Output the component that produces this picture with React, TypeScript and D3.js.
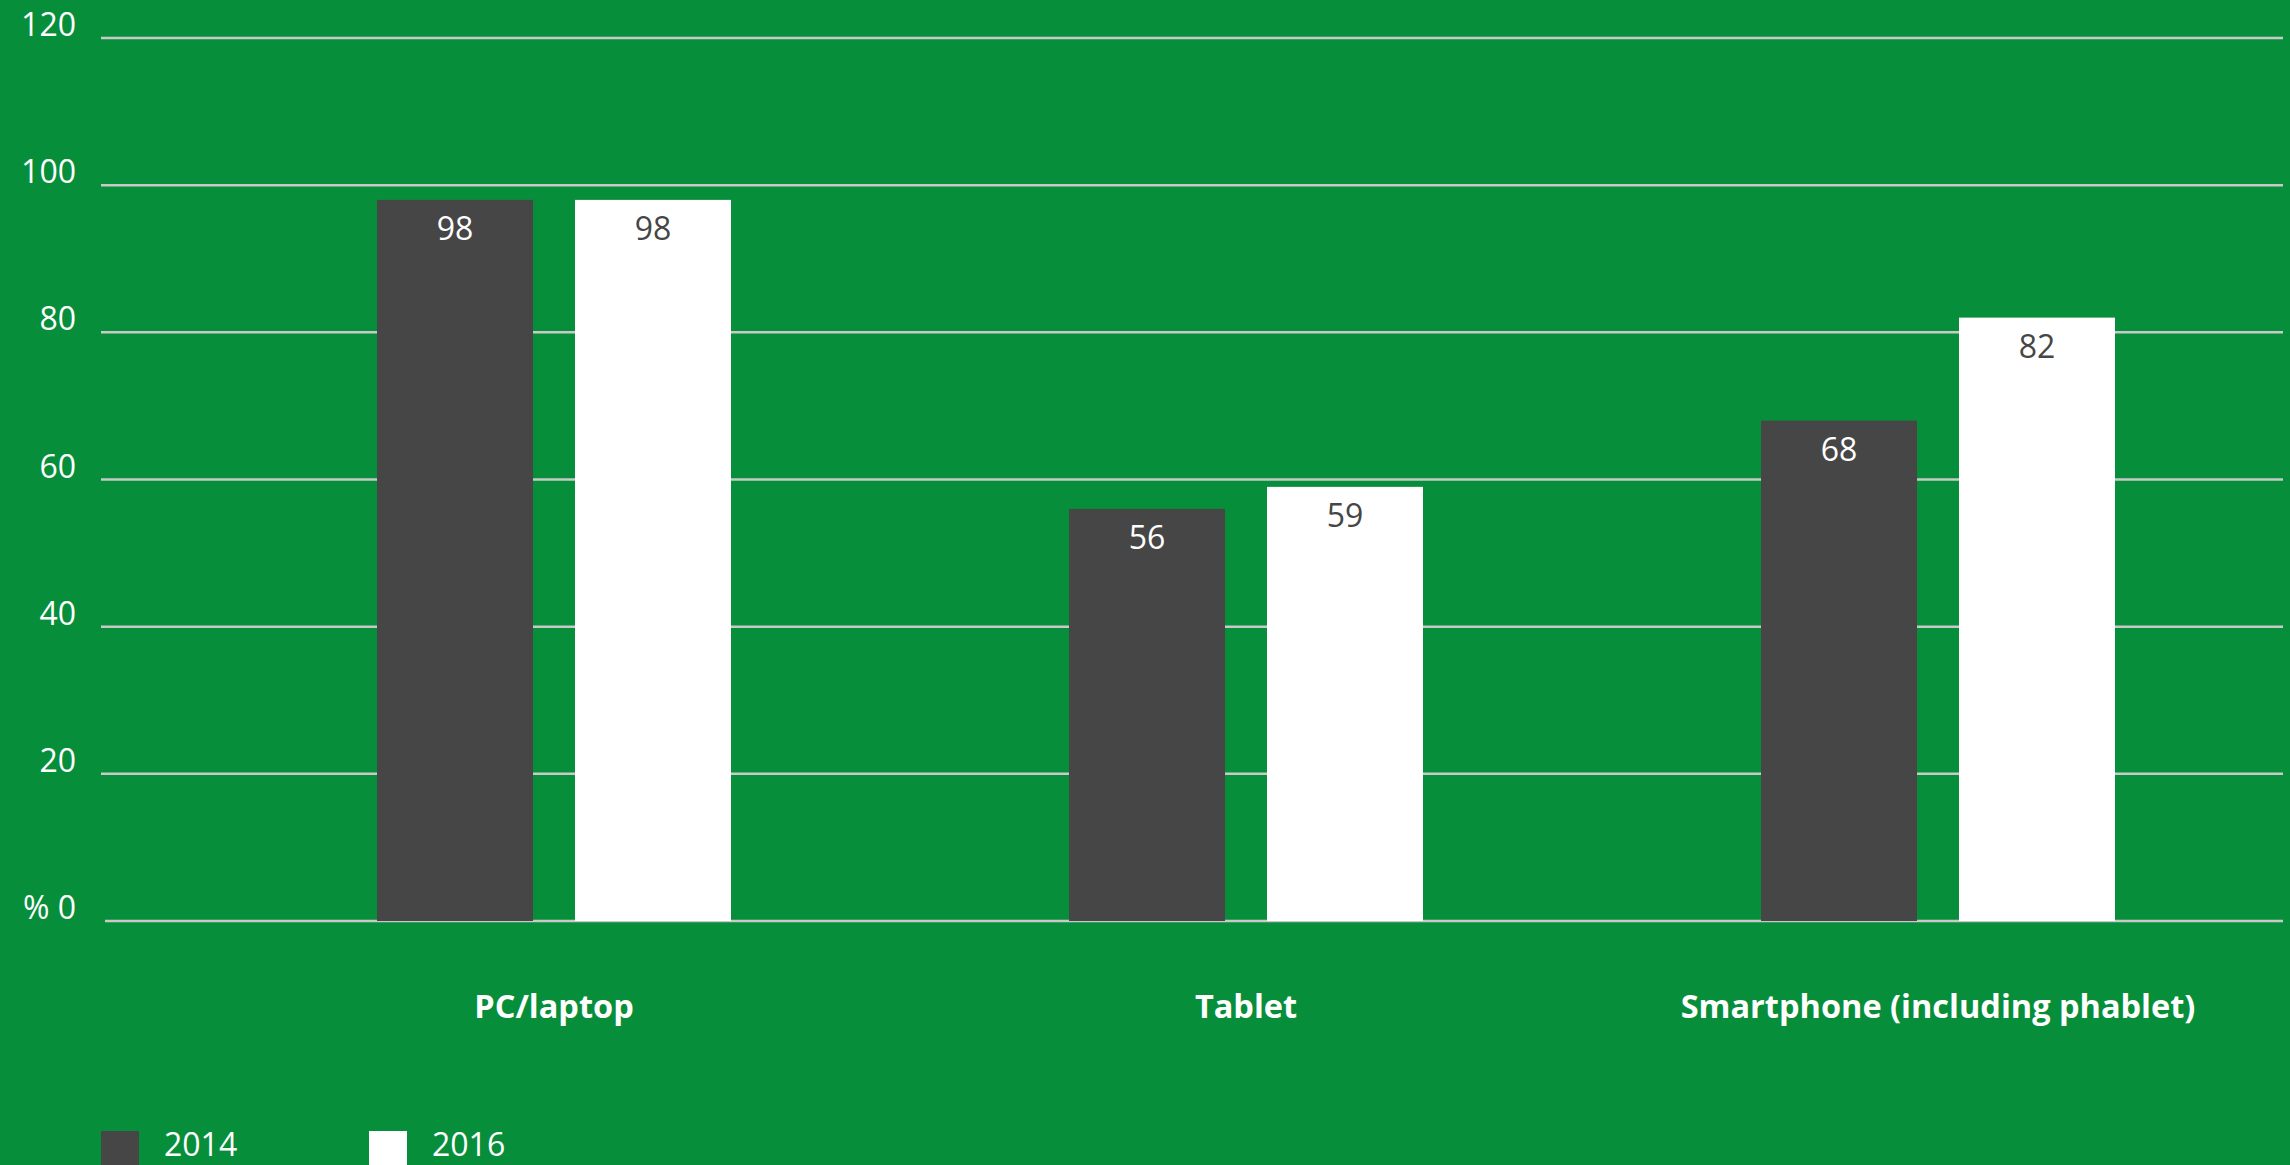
import React from "react";
import * as d3 from "d3";

const categories = ["PC/laptop", "Tablet", "Smartphone (including phablet)"];
const seriesNames = ["2014", "2016"];
const values2014 = [98, 56, 68];
const values2016 = [98, 59, 82];
const yTicks = [0, 20, 40, 60, 80, 100, 120];

const W = 2290;
const H = 1165;
const BG = "#078e3a";
const DARK = "#464646";
const WHITE = "#ffffff";
const GRID = "#c9c9c9";
const FONT = "'Open Sans', 'DejaVu Sans', sans-serif";

export default function App() {
  const y = d3.scaleLinear().domain([0, 120]).range([921, 38]);
  const x0 = d3.scaleBand<string>().domain(categories).range([208, 2284]).padding(0);
  const x1 = d3
    .scaleBand<string>()
    .domain(seriesNames)
    .range([169, 523])
    .paddingInner(0.212)
    .paddingOuter(0);
  const colors = [DARK, WHITE];
  const labelColors = [WHITE, DARK];
  const series = [values2014, values2016];

  return (
    <div style={{ position: "fixed", left: 0, top: 0, width: W, height: H, background: BG }}>
      <svg width={W} height={H} style={{ display: "block" }}>
        <rect x={0} y={0} width={W} height={H} fill={BG} />
        {yTicks.map((t) => (
          <g key={t}>
            <line
              x1={t === 0 ? 105 : 101}
              x2={2283}
              y1={y(t)}
              y2={y(t)}
              stroke={GRID}
              strokeWidth={2.5}
            />
            <text
              x={76}
              y={y(t) - 2}
              textAnchor="end"
              fill="#ffffff"
              fontFamily={FONT}
              fontSize={32}
            >
              {t === 0 ? "% 0" : String(t)}
            </text>
          </g>
        ))}
        {categories.map((c, ci) => (
          <g key={c} transform={`translate(${x0(c)},0)`}>
            {seriesNames.map((s, si) => {
              const v = series[si][ci];
              const bx = x1(s)!;
              const bw = x1.bandwidth();
              return (
                <g key={s}>
                  <rect x={bx} y={y(v)} width={bw} height={y(0) - y(v)} fill={colors[si]} />
                  <text
                    x={bx + bw / 2}
                    y={y(v) + 40}
                    textAnchor="middle"
                    fill={labelColors[si]}
                    fontFamily={FONT}
                    fontSize={32}
                  >
                    {v}
                  </text>
                </g>
              );
            })}
            <text
              x={x0.bandwidth() / 2}
              y={1018}
              textAnchor="middle"
              fill="#ffffff"
              fontFamily={FONT}
              fontWeight="bold"
              fontSize={32.5}
            >
              {c}
            </text>
          </g>
        ))}
        {seriesNames.map((s, si) => (
          <g key={s} transform={`translate(${101 + si * 268},1131)`}>
            <rect x={0} y={0} width={38} height={40} fill={colors[si]} />
            <text x={63} y={25} fill="#ffffff" fontFamily={FONT} fontSize={32}>
              {s}
            </text>
          </g>
        ))}
      </svg>
    </div>
  );
}
